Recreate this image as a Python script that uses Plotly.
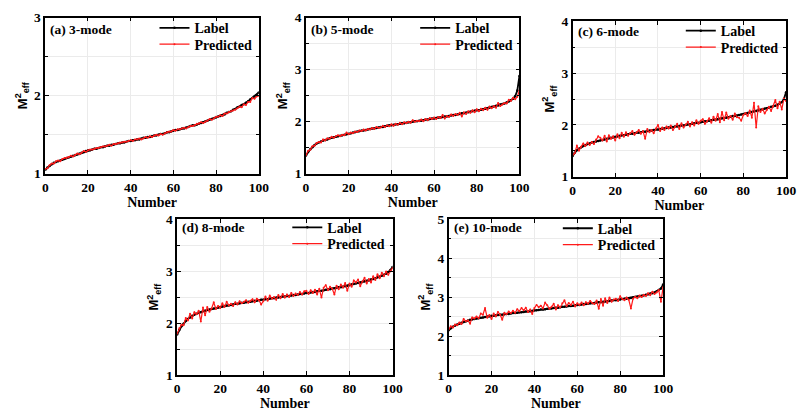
import plotly.graph_objects as go

number = list(range(101))

label_a = [1.05, 1.08, 1.10, 1.12, 1.14, 1.15, 1.16, 1.17, 1.18, 1.19, 1.20,
           1.21, 1.22, 1.23, 1.24, 1.25, 1.26, 1.27, 1.28, 1.29, 1.30,
           1.30, 1.31, 1.32, 1.32, 1.33, 1.34, 1.34, 1.35, 1.36, 1.36,
           1.37, 1.37, 1.38, 1.39, 1.39, 1.40, 1.40, 1.41, 1.42, 1.42,
           1.43, 1.43, 1.44, 1.44, 1.45, 1.46, 1.46, 1.47, 1.47, 1.48,
           1.49, 1.49, 1.50, 1.51, 1.51, 1.52, 1.53, 1.53, 1.54, 1.55,
           1.56, 1.56, 1.57, 1.58, 1.58, 1.59, 1.60, 1.61, 1.62, 1.62,
           1.63, 1.64, 1.65, 1.66, 1.67, 1.68, 1.69, 1.70, 1.71, 1.72,
           1.73, 1.74, 1.75, 1.76, 1.78, 1.79, 1.80, 1.82, 1.83, 1.85,
           1.86, 1.88, 1.89, 1.91, 1.93, 1.95, 1.97, 1.99, 2.01, 2.04]
pred_a = [1.06, 1.07, 1.11, 1.13, 1.13, 1.16, 1.17, 1.16, 1.19, 1.20, 1.20,
          1.21, 1.23, 1.22, 1.24, 1.26, 1.25, 1.27, 1.29, 1.28, 1.30,
          1.31, 1.31, 1.32, 1.33, 1.33, 1.34, 1.35, 1.35, 1.36, 1.37,
          1.36, 1.38, 1.38, 1.39, 1.40, 1.40, 1.41, 1.41, 1.42, 1.43,
          1.42, 1.44, 1.44, 1.45, 1.44, 1.45, 1.47, 1.46, 1.48, 1.47,
          1.49, 1.50, 1.49, 1.51, 1.50, 1.52, 1.53, 1.54, 1.54, 1.56,
          1.55, 1.57, 1.57, 1.58, 1.59, 1.58, 1.60, 1.61, 1.61, 1.62,
          1.64, 1.64, 1.66, 1.65, 1.67, 1.68, 1.70, 1.69, 1.71, 1.73,
          1.73, 1.75, 1.74, 1.77, 1.77, 1.79, 1.80, 1.81, 1.82, 1.84,
          1.86, 1.85, 1.89, 1.88, 1.92, 1.92, 1.97, 1.96, 1.99, 2.00, 2.05]

label_b = [1.35, 1.42, 1.47, 1.51, 1.55, 1.58, 1.60, 1.62, 1.64, 1.65, 1.66,
           1.68, 1.69, 1.70, 1.71, 1.72, 1.73, 1.74, 1.75, 1.76, 1.77,
           1.78, 1.79, 1.80, 1.81, 1.82, 1.83, 1.83, 1.84, 1.85, 1.86,
           1.87, 1.87, 1.88, 1.89, 1.90, 1.90, 1.91, 1.92, 1.93, 1.93,
           1.94, 1.95, 1.95, 1.96, 1.97, 1.97, 1.98, 1.99, 1.99, 2.00,
           2.01, 2.01, 2.02, 2.02, 2.03, 2.04, 2.04, 2.05, 2.06, 2.06,
           2.07, 2.08, 2.08, 2.09, 2.10, 2.10, 2.11, 2.12, 2.13, 2.13,
           2.14, 2.15, 2.16, 2.16, 2.17, 2.18, 2.19, 2.20, 2.21, 2.22,
           2.22, 2.23, 2.24, 2.25, 2.26, 2.27, 2.28, 2.29, 2.30, 2.31,
           2.33, 2.34, 2.35, 2.37, 2.39, 2.41, 2.44, 2.49, 2.60, 2.88]
pred_b = [1.36, 1.44, 1.46, 1.53, 1.54, 1.59, 1.61, 1.60, 1.66, 1.64, 1.68,
          1.67, 1.71, 1.69, 1.72, 1.74, 1.72, 1.75, 1.74, 1.79, 1.76,
          1.79, 1.78, 1.81, 1.80, 1.83, 1.82, 1.85, 1.83, 1.86, 1.85,
          1.88, 1.86, 1.90, 1.88, 1.89, 1.92, 1.90, 1.93, 1.91, 1.95,
          1.92, 1.96, 1.94, 1.98, 1.95, 1.99, 1.97, 2.00, 1.98, 2.03,
          2.00, 2.02, 2.01, 2.04, 2.01, 2.05, 2.03, 2.07, 2.05, 2.08,
          2.05, 2.09, 2.07, 2.13, 2.06, 2.11, 2.09, 2.14, 2.11, 2.15,
          2.13, 2.17, 2.10, 2.18, 2.15, 2.20, 2.17, 2.22, 2.18, 2.24,
          2.20, 2.25, 2.22, 2.27, 2.23, 2.29, 2.26, 2.30, 2.27, 2.36,
          2.30, 2.33, 2.36, 2.35, 2.42, 2.40, 2.46, 2.43, 2.48, 2.60, 2.75]

label_c = [1.40, 1.46, 1.51, 1.54, 1.57, 1.59, 1.61, 1.63, 1.64, 1.66, 1.67,
           1.68, 1.69, 1.70, 1.71, 1.72, 1.73, 1.74, 1.75, 1.76, 1.77,
           1.78, 1.79, 1.80, 1.80, 1.81, 1.82, 1.83, 1.83, 1.84, 1.85,
           1.85, 1.86, 1.87, 1.87, 1.88, 1.89, 1.89, 1.90, 1.91, 1.91,
           1.92, 1.93, 1.93, 1.94, 1.95, 1.95, 1.96, 1.97, 1.97, 1.98,
           1.99, 1.99, 2.00, 2.01, 2.01, 2.02, 2.03, 2.04, 2.04, 2.05,
           2.06, 2.07, 2.07, 2.08, 2.09, 2.10, 2.10, 2.11, 2.12, 2.13,
           2.13, 2.14, 2.15, 2.16, 2.17, 2.17, 2.18, 2.19, 2.20, 2.21,
           2.22, 2.23, 2.24, 2.25, 2.26, 2.27, 2.28, 2.29, 2.30, 2.31,
           2.32, 2.33, 2.35, 2.36, 2.37, 2.39, 2.41, 2.44, 2.50, 2.63]
pred_c = [1.42, 1.45, 1.60, 1.50, 1.58, 1.64, 1.59, 1.66, 1.61, 1.67, 1.63,
          1.72, 1.78, 1.75, 1.70, 1.79, 1.68, 1.80, 1.73, 1.78, 1.70,
          1.82, 1.74, 1.85, 1.77, 1.86, 1.79, 1.84, 1.88, 1.81, 1.86,
          1.90, 1.83, 1.88, 1.73, 1.92, 1.86, 1.90, 1.84, 1.93, 2.00,
          1.88, 1.95, 1.90, 1.97, 1.93, 1.99, 1.90, 1.96, 2.02, 1.92,
          2.03, 1.95, 2.01, 2.06, 1.97, 2.05, 1.99, 2.09, 2.02, 2.08,
          2.11, 2.02, 2.07, 2.13, 2.04, 2.16, 2.08, 2.21, 2.05, 2.25,
          2.09, 2.24, 2.12, 2.17, 2.10, 2.22, 2.15, 2.14, 2.08, 2.19,
          2.23, 2.17, 2.28, 2.14, 2.43, 1.95, 2.36, 2.25, 2.31, 2.22,
          2.29, 2.35, 2.27, 2.36, 2.48, 2.32, 2.45, 2.30, 2.51, 2.46, 2.58]

label_d = [1.78, 1.87, 1.94, 1.99, 2.04, 2.08, 2.11, 2.14, 2.16, 2.18, 2.20,
           2.21, 2.23, 2.24, 2.25, 2.26, 2.27, 2.28, 2.29, 2.30, 2.31,
           2.32, 2.33, 2.34, 2.34, 2.35, 2.36, 2.37, 2.37, 2.38, 2.39,
           2.39, 2.40, 2.41, 2.41, 2.42, 2.43, 2.43, 2.44, 2.45, 2.45,
           2.46, 2.46, 2.47, 2.48, 2.48, 2.49, 2.49, 2.50, 2.51, 2.51,
           2.52, 2.52, 2.53, 2.54, 2.54, 2.55, 2.56, 2.56, 2.57, 2.58,
           2.58, 2.59, 2.60, 2.60, 2.61, 2.62, 2.62, 2.63, 2.64, 2.65,
           2.65, 2.66, 2.67, 2.68, 2.69, 2.69, 2.70, 2.71, 2.72, 2.73,
           2.74, 2.75, 2.76, 2.77, 2.78, 2.79, 2.80, 2.81, 2.82, 2.84,
           2.85, 2.86, 2.88, 2.89, 2.91, 2.93, 2.95, 2.98, 3.02, 3.08]
pred_d = [1.80, 1.90, 1.97, 1.96, 2.10, 2.05, 2.18, 2.09, 2.21, 2.17, 2.24,
          2.03, 2.30, 2.15, 2.31, 2.22, 2.28, 2.40, 2.27, 2.33, 2.29,
          2.38, 2.31, 2.41, 2.34, 2.37, 2.33, 2.40, 2.36, 2.42, 2.38,
          2.41, 2.44, 2.39, 2.43, 2.46, 2.40, 2.47, 2.44, 2.36, 2.42,
          2.51, 2.43, 2.53, 2.47, 2.50, 2.45, 2.54, 2.48, 2.56, 2.49,
          2.55, 2.50, 2.58, 2.52, 2.57, 2.54, 2.60, 2.55, 2.61, 2.62,
          2.56, 2.63, 2.58, 2.64, 2.55, 2.66, 2.49, 2.68, 2.73, 2.63,
          2.70, 2.66, 2.55, 2.72, 2.65, 2.74, 2.68, 2.77, 2.62, 2.76,
          2.70, 2.82, 2.78, 2.84, 2.71, 2.80, 2.87, 2.76, 2.85, 2.78,
          2.90, 2.83, 2.94, 2.86, 2.97, 2.90, 2.99, 2.93, 3.01, 3.06, 3.13]

label_e = [2.15, 2.20, 2.24, 2.27, 2.30, 2.32, 2.34, 2.36, 2.38, 2.40, 2.42,
           2.43, 2.44, 2.45, 2.46, 2.47, 2.48, 2.49, 2.50, 2.51, 2.52,
           2.52, 2.53, 2.54, 2.55, 2.55, 2.56, 2.57, 2.57, 2.58, 2.59,
           2.59, 2.60, 2.61, 2.61, 2.62, 2.63, 2.63, 2.64, 2.65, 2.66,
           2.66, 2.67, 2.68, 2.68, 2.69, 2.70, 2.70, 2.71, 2.72, 2.73,
           2.73, 2.74, 2.75, 2.75, 2.76, 2.77, 2.77, 2.78, 2.79, 2.80,
           2.80, 2.81, 2.82, 2.82, 2.83, 2.84, 2.84, 2.85, 2.86, 2.87,
           2.87, 2.88, 2.89, 2.89, 2.90, 2.91, 2.92, 2.92, 2.93, 2.94,
           2.95, 2.96, 2.96, 2.97, 2.98, 2.99, 3.00, 3.01, 3.02, 3.03,
           3.04, 3.06, 3.07, 3.09, 3.10, 3.12, 3.15, 3.18, 3.22, 3.32]
pred_e = [2.17, 2.25, 2.22, 2.30, 2.28, 2.35, 2.31, 2.44, 2.38, 2.40, 2.32,
          2.48, 2.45, 2.50, 2.46, 2.58, 2.55, 2.72, 2.47, 2.54, 2.44,
          2.58, 2.50, 2.62, 2.55, 2.42, 2.60, 2.56, 2.63, 2.59, 2.65,
          2.60, 2.69, 2.64, 2.72, 2.66, 2.73, 2.62, 2.68, 2.57, 2.72,
          2.80, 2.74, 2.78, 2.71, 2.86, 2.79, 2.70, 2.75, 2.83, 2.68,
          2.79, 2.74, 2.84, 2.92, 2.77, 2.85, 2.80, 2.88, 2.76, 2.84,
          2.80, 2.86, 2.79, 2.87, 2.83, 2.90, 2.85, 2.82, 2.91, 2.70,
          2.95, 2.78, 2.97, 2.85, 2.99, 2.88, 2.94, 2.96, 2.90, 3.02,
          2.95, 2.92, 2.99, 2.93, 2.71, 2.96, 3.01, 2.97, 3.04, 3.00,
          3.06, 3.03, 3.10, 3.05, 3.14, 3.08, 3.12, 3.18, 2.88, 3.25, 3.45]

panel_titles = ["(a) 3-mode", "(b) 5-mode", "(c) 6-mode", "(d) 8-mode", "(e) 10-mode"]
y_max = [3, 4, 4, 4, 5]
labels = [label_a, label_b, label_c, label_d, label_e]
preds = [pred_a, pred_b, pred_c, pred_d, pred_e]

W, H = 799, 414
# plot-area boxes in pixels: (left, right, top, bottom)
boxes = [(43, 260, 11, 173), (308, 525, 11, 173), (579, 796, 15, 176),
         (177, 396, 220, 382), (453, 671, 220, 382)]
# legend text start x and row centre y (pixels)
leg_x = [192, 457, 727, 327, 602]
leg_y = [22, 22, 25, 229, 230]
title_y = [23, 23, 25, 229, 229]

SERIF = "Liberation Serif"
fig = go.Figure()
layout = dict(width=W, height=H, margin=dict(l=0, r=0, t=0, b=0),
              paper_bgcolor="white", plot_bgcolor="white", showlegend=True)
annotations = []

leg_n = 1
for i in range(5):
    l, r, t, b = boxes[i]
    xa = "x" if i == 0 else f"x{i+1}"
    ya = "y" if i == 0 else f"y{i+1}"
    lg1 = "legend" if leg_n == 1 else f"legend{leg_n}"
    lg2 = f"legend{leg_n+1}"
    leg_n += 2
    fig.add_trace(go.Scatter(x=number, y=labels[i], mode="lines+markers", name="Label",
                             line=dict(color="black", width=1.8),
                             marker=dict(color="black", size=2.5),
                             xaxis=xa, yaxis=ya, legend=lg1))
    fig.add_trace(go.Scatter(x=number, y=preds[i], mode="lines+markers", name="Predicted",
                             line=dict(color="#ff1a1a", width=1.2),
                             marker=dict(color="#ff1a1a", size=2),
                             xaxis=xa, yaxis=ya, legend=lg2))
    common = dict(showline=True, linecolor="black", linewidth=1.5, mirror="ticks",
                  ticks="inside", ticklen=4, tickwidth=1.2, tickcolor="black",
                  showgrid=True, gridcolor="#ebebeb", gridwidth=1, zeroline=False,
                  tickfont=dict(family=SERIF, size=13.5, color="black", weight="bold"))
    xkey = "xaxis" if i == 0 else f"xaxis{i+1}"
    ykey = "yaxis" if i == 0 else f"yaxis{i+1}"
    layout[xkey] = dict(common, domain=[l / W, r / W], anchor=ya, range=[0, 100],
                        tickmode="array", tickvals=[0, 20, 40, 60, 80, 100],
                        title=dict(text="Number", standoff=1,
                                   font=dict(family=SERIF, size=14, color="black", weight="bold")))
    layout[ykey] = dict(common, domain=[1 - b / H, 1 - t / H], anchor=xa,
                        range=[1, y_max[i]], dtick=1,
                        minor=dict(dtick=0.5, ticks="inside", ticklen=3, tickcolor="black",
                                   showgrid=True, gridcolor="#ebebeb"),
                        title=dict(text="M<sup>2</sup><sub>eff</sub>", standoff=4,
                                   font=dict(family="Liberation Sans", size=13, color="black",
                                             weight="bold")))
    for k, lg in enumerate((lg1, lg2)):
        layout[lg] = dict(x=(leg_x[i] - 38) / W, y=1 - (leg_y[i] + 17 * k) / H,
                          xanchor="left", yanchor="middle",
                          bgcolor="rgba(0,0,0,0)", borderwidth=0, itemwidth=30,
                          font=dict(family=SERIF, size=14, color="black", weight="bold"))
    annotations.append(dict(text=panel_titles[i], xref="paper", yref="paper",
                            x=(l + 3) / W, y=1 - title_y[i] / H, xanchor="left",
                            yanchor="middle", showarrow=False,
                            font=dict(family=SERIF, size=13.5, color="black", weight="bold")))

layout["annotations"] = annotations
fig.update_layout(**layout)
fig.write_html("out.html")
